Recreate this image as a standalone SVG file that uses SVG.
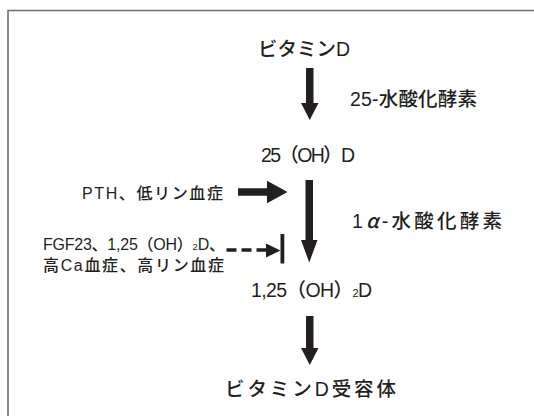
<svg xmlns="http://www.w3.org/2000/svg" width="534" height="416" viewBox="0 0 534 416">
<style>
.t{font-family:"Liberation Sans","Noto Sans CJK JP",sans-serif;fill:#231f20;font-weight:500}
.b{font-size:19.5px}
.s{font-size:16px}
.ar{fill:#231f20}
</style>
<rect width="534" height="416" fill="#fff"/>
<path d="M8,416 V10.5 H534" fill="none" stroke="#707070" stroke-width="1.6"/>
<g id="n_vitd"><text class="t b" x="258" y="56" textLength="92" lengthAdjust="spacing">ビタミンD</text></g>
<g id="n_25ohd"><text class="t b" x="261" y="162" textLength="94" lengthAdjust="spacing">25（OH）D</text></g>
<g id="n_125"><text class="t b" x="251" y="297" textLength="121" lengthAdjust="spacing">1,25（OH）<tspan font-size="11">2</tspan>D</text></g>
<g id="n_vdr"><text class="t b" x="225" y="396" textLength="171" lengthAdjust="spacing">ビタミンD受容体</text></g>
<g id="n_25hyd"><text class="t b" x="350" y="106" textLength="127" lengthAdjust="spacing">25-水酸化酵素</text></g>
<g id="n_1ahyd"><text class="t b" x="352" y="228" textLength="150" lengthAdjust="spacing">1<tspan font-family="'Noto Sans CJK JP',sans-serif" font-style="italic">α</tspan>-水酸化酵素</text></g>
<g id="n_pth"><text class="t s" x="82" y="199" textLength="141" lengthAdjust="spacing">PTH、低リン血症</text></g>
<g id="n_inh">
<text class="t s" x="43" y="250" textLength="182" lengthAdjust="spacing">FGF23、1,25（OH）<tspan font-size="9.5">2</tspan>D、</text>
<text class="t s" x="43" y="271" textLength="181" lengthAdjust="spacing">高Ca血症、高リン血症</text>
</g>
<g id="connectors">
<polygon class="ar" points="306,68 313.5,68 313.5,103 318.5,103 309.75,120 301,103 306,103"/>
<polygon class="ar" points="305.5,180 313,180 313,240 317.5,240 309.25,262.5 301,240 305.5,240"/>
<polygon class="ar" points="306,316 313.5,316 313.5,348 318.5,348 309.75,365 301,348 306,348"/>
<polygon class="ar" points="238,188.3 267,188.3 267,180.7 287.5,192 267,203.3 267,195.7 238,195.7"/>
<line x1="226.5" y1="250" x2="266" y2="250" stroke="#231f20" stroke-width="3.5" stroke-dasharray="10,5"/>
<polygon class="ar" points="266,243.5 280.5,250.5 266,257.5"/>
<rect class="ar" x="280.5" y="234" width="3.8" height="29.5"/>
</g>
</svg>
